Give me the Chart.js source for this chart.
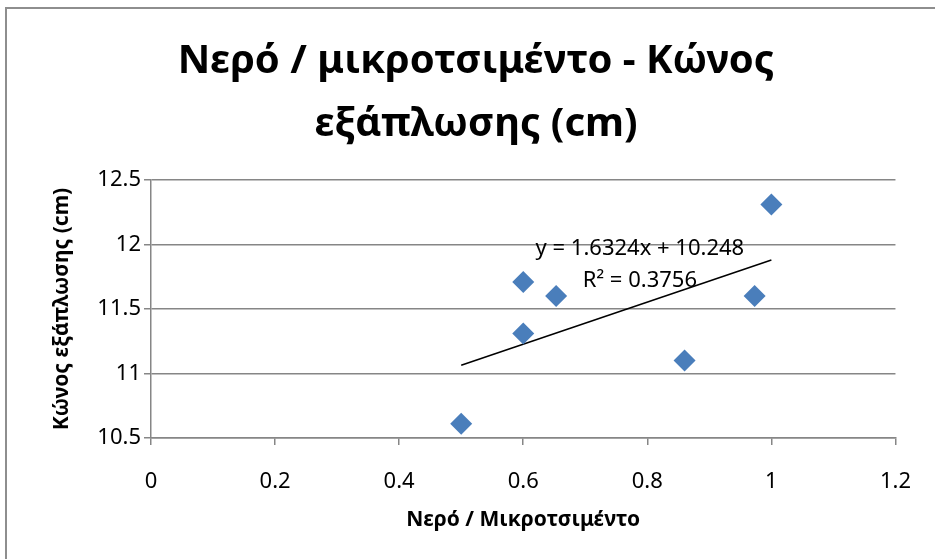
<!DOCTYPE html>
<html>
<head>
<meta charset="utf-8">
<script src="https://cdn.jsdelivr.net/npm/chart.js@4"></script>
<style>
    body { margin: 0; background: #fff; }
    #frame {
        position: absolute; left: 5px; top: 7px;
        width: 1000px; height: 1000px;
        border: 2px solid #8e8e8e;
    }
    #wrap { position: absolute; left: 0; top: 0; width: 935px; height: 559px; }
</style>
</head>
<body>
<div id="frame"></div>
<div id="wrap"><canvas id="slumpChart"></canvas></div>
<script>
// water / micro-cement ratio vs. slump spread (cm)
const ratios = [0.5, 0.6, 0.6, 0.653, 0.86, 0.973, 1.0];
const spreads = [10.61, 11.31, 11.71, 11.6, 11.1, 11.6, 12.31];

// linear trendline as printed on the chart
const slope = 1.6324;
const intercept = 10.248;
const rSquared = 0.3756;

const titleLines = ['Νερό / μικροτσιμέντο - Κώνος', 'εξάπλωσης (cm)'];
const xTicks = [0, 0.2, 0.4, 0.6, 0.8, 1, 1.2];
const yTicks = [10.5, 11, 11.5, 12, 12.5];

const FONT = "'Noto Sans', sans-serif";
const GRID = '#868686';

const points = ratios.map((x, i) => ({ x: x, y: spreads[i] }));
const xMin = Math.min(...ratios), xMax = Math.max(...ratios);
const trend = [
    { x: xMin, y: intercept + slope * xMin },
    { x: xMax, y: intercept + slope * xMax }
];

const fmt = (v) => String(+v.toFixed(2));

// chart title sits centred on the whole frame, not the chart box
const frameTitle = {
    id: 'frameTitle',
    afterDraw(chart) {
        const ctx = chart.ctx;
        ctx.save();
        ctx.fillStyle = '#000';
        ctx.font = `bold 40px ${FONT}`;
        ctx.textAlign = 'center';
        ctx.textBaseline = 'middle';
        titleLines.forEach((line, i) => ctx.fillText(line, 476, 62 + i * 63));
        ctx.restore();
    }
};

const trendLabel = {
    id: 'trendLabel',
    afterDatasetsDraw(chart) {
        const { ctx, scales } = chart;
        const cx = scales.x.getPixelForValue(0.788);
        const cy = scales.y.getPixelForValue(11.97);
        ctx.save();
        ctx.fillStyle = '#000';
        ctx.font = `22px ${FONT}`;
        ctx.textAlign = 'center';
        ctx.textBaseline = 'middle';
        ctx.fillText(`y = ${slope}x + ${intercept}`, cx, cy);
        ctx.fillText(`R² = ${rSquared}`, cx, cy + 32);
        ctx.restore();
    }
};

Chart.defaults.font.family = FONT;
Chart.defaults.color = '#000';

new Chart(document.getElementById('slumpChart'), {
    type: 'scatter',
    data: {
        datasets: [{
            data: points,
            pointStyle: 'rectRot',
            pointRadius: 11,
            pointHoverRadius: 11,
            backgroundColor: '#4a7ebb',
            borderColor: '#4a7ebb',
            borderWidth: 0
        }, {
            data: trend,
            showLine: true,
            pointRadius: 0,
            borderColor: '#000',
            borderWidth: 1.5
        }]
    },
    options: {
        responsive: true,
        maintainAspectRatio: false,
        animation: false,
        layout: { padding: { left: 0, right: 39, top: 180, bottom: 0 } },
        plugins: {
            legend: { display: false },
            tooltip: { enabled: false },
            title: { display: false }
        },
        scales: {
            x: {
                type: 'linear',
                min: 0,
                max: 1.2,
                afterBuildTicks: (s) => { s.ticks = xTicks.map(v => ({ value: v })); },
                afterFit: (s) => { s.height = 121; },
                ticks: { font: { size: 22 }, padding: 24, maxRotation: 0, callback: fmt },
                grid: { drawOnChartArea: false, drawTicks: true, tickLength: 7, color: GRID, lineWidth: 1.5 },
                border: { color: GRID, width: 1.5 },
                title: {
                    display: true,
                    text: 'Νερό / Μικροτσιμέντο',
                    font: { size: 21, weight: 'bold' },
                    padding: { top: 0, bottom: 26 }
                }
            },
            y: {
                min: 10.5,
                max: 12.5,
                afterBuildTicks: (s) => { s.ticks = yTicks.map(v => ({ value: v })); },
                afterFit: (s) => { s.width = 151; },
                ticks: { font: { size: 22 }, padding: 3, callback: fmt },
                grid: { color: GRID, lineWidth: 1.5, tickLength: 7 },
                border: { color: GRID, width: 1.5 },
                title: {
                    display: true,
                    text: 'Κώνος εξάπλωσης (cm)',
                    font: { size: 21, weight: 'bold' },
                    padding: { top: 49, bottom: 0 }
                }
            }
        }
    },
    plugins: [trendLabel, frameTitle]
});
</script>
</body>
</html>
